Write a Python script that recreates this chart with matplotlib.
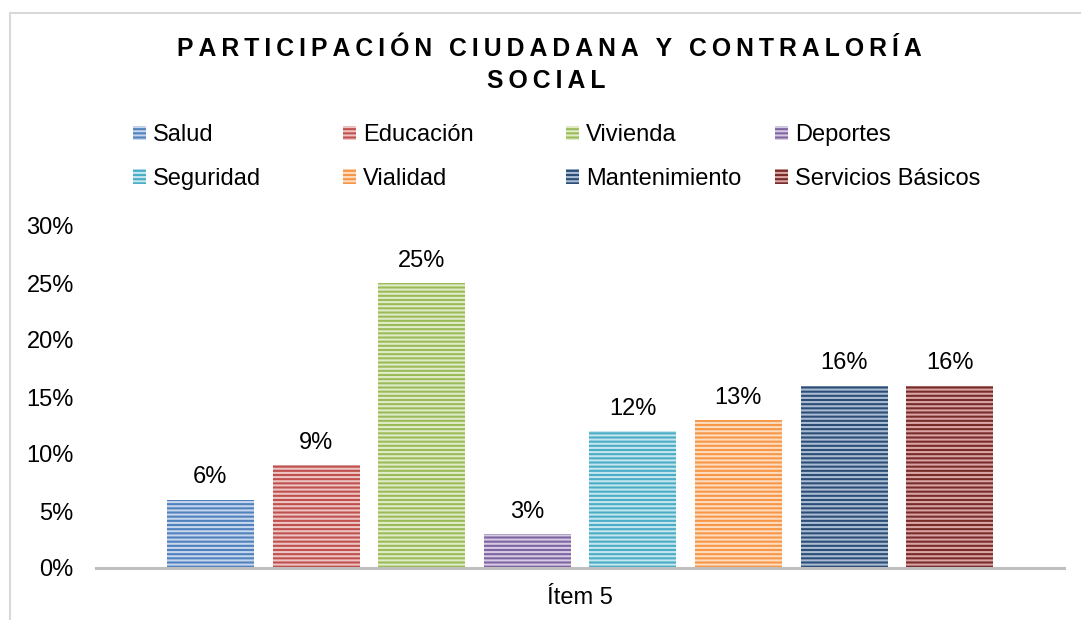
import matplotlib.pyplot as plt
import numpy as np
from matplotlib.patches import Rectangle
from matplotlib.ticker import FuncFormatter

plt.rcParams['font.family'] = ['Liberation Sans', 'DejaVu Sans']
plt.rcParams['hatch.linewidth'] = 1.5

W, H = 1081, 620
fig = plt.figure(figsize=(W / 100, H / 100), dpi=100)

# datos
categorias = ['Salud', 'Educación', 'Vivienda', 'Deportes',
              'Seguridad', 'Vialidad', 'Mantenimiento', 'Servicios Básicos']
valores = [0.06, 0.09, 0.25, 0.03, 0.12, 0.13, 0.16, 0.16]
base = ['#4F81BD', '#C0504D', '#9BBB59', '#8064A2',
        '#4BACC6', '#F79646', '#2C4D75', '#772C2A']
claro = ['#C6D6EC', '#ECC4C3', '#E0ECC8', '#D5CBE2',
         '#C3E6EF', '#FDDCC0', '#A9BCD4', '#D9A4A3']
item = 'Ítem 5'
titulo = 'PARTICIPACIÓN CIUDADANA Y CONTRALORÍA\nSOCIAL'

fs = 17

# marco del gráfico
fig.patches.append(Rectangle((10 / W, -0.1), 1.2, (H - 13) / H + 0.1,
                             transform=fig.transFigure, fill=False,
                             edgecolor='#D9D9D9', linewidth=1.5))

ax = fig.add_axes([96 / W, 52 / H, 968 / W, 342 / H])
x = np.arange(len(valores))
step = 105.6
half = 968 / step / 2
bars = []
for i in range(len(valores)):
    b = ax.bar(x[i], valores[i], width=87 / step, color=base[i],
               edgecolor=claro[i], linewidth=0, hatch='----',
               label=categorias[i])
    bars.append(b)
    ax.annotate(f'{valores[i]*100:.0f}%', (x[i], valores[i]),
                xytext=(0, 8), textcoords='offset points',
                ha='center', va='bottom', fontsize=fs)

ax.set_xlim(3.5 - half, 3.5 + half)
ax.set_ylim(0, 0.30)
ax.set_yticks(np.arange(0, 0.31, 0.05))
ax.yaxis.set_major_formatter(FuncFormatter(lambda v, p: f'{v*100:.0f}%'))
ax.set_xticks([3.5])
ax.set_xticklabels([item])
ax.tick_params(axis='both', length=0, labelsize=fs)
ax.tick_params(axis='y', pad=16)
ax.tick_params(axis='x', pad=14)
for s in ['top', 'right', 'left']:
    ax.spines[s].set_visible(False)
ax.spines['bottom'].set_color('#BFBFBF')
ax.spines['bottom'].set_linewidth(2.2)

# título con espaciado de letras
lineas = titulo.split('\n')
espaciado = ['\u2009'.join(l) for l in lineas]
fig.text(549 / W, 1 - 49 / H, espaciado[0], ha='center', va='center',
         fontsize=17.8, fontweight='bold')
fig.text(546 / W, 1 - 81 / H, espaciado[1], ha='center', va='center',
         fontsize=17.8, fontweight='bold')

# leyenda en cuatro columnas
cols_x = [133, 343, 566, 775]
for c in range(4):
    hs = [bars[c][0], bars[c + 4][0]]
    ls = [categorias[c], categorias[c + 4]]
    fig.legend(hs, ls, loc='upper left',
               bbox_to_anchor=(cols_x[c] / W, 1 - 124 / H),
               frameon=False, fontsize=fs, borderpad=0, borderaxespad=0,
               handlelength=0.55, handleheight=0.55, handletextpad=0.3,
               labelspacing=0.93)

fig.savefig('out.png', dpi=100)
